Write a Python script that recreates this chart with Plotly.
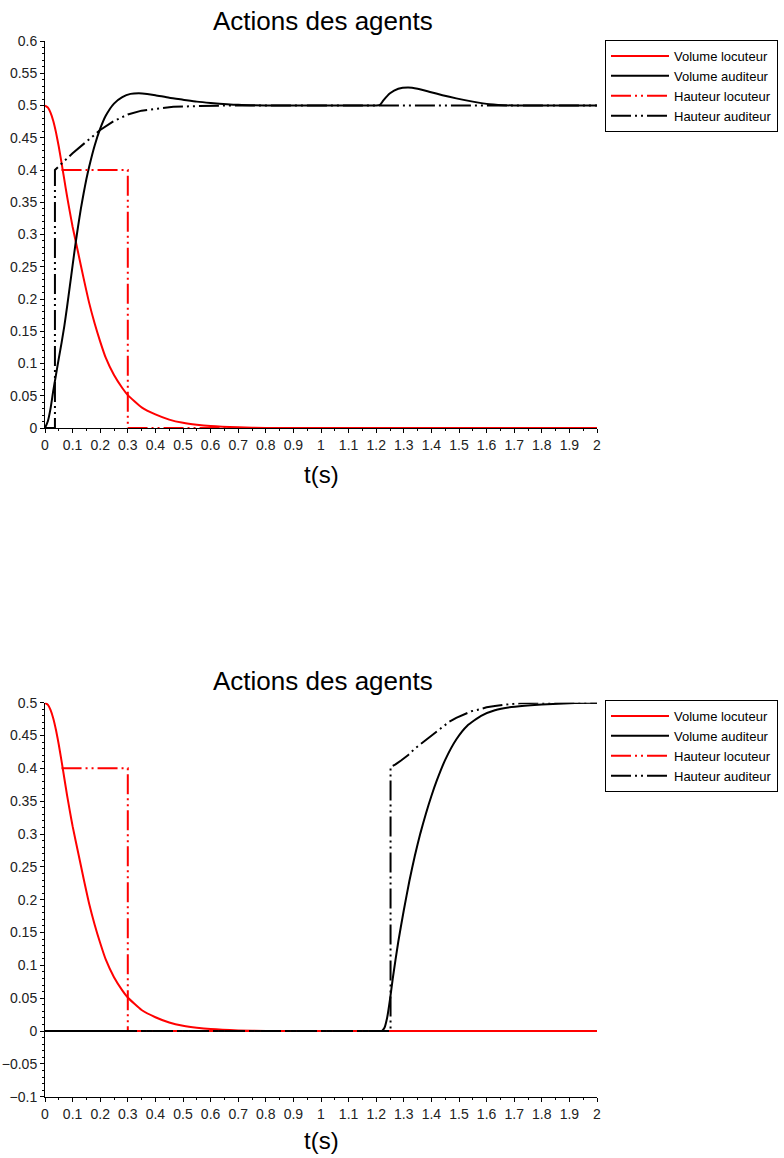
import plotly.graph_objects as go

# ---- data ----
# volume locuteur (same in both panels)
t_vol_loc = [0, 0.01, 0.02, 0.03, 0.04, 0.05, 0.06, 0.07, 0.08, 0.09, 0.10, 0.12, 0.14,
             0.16, 0.18, 0.20, 0.22, 0.25, 0.28, 0.30, 0.35, 0.40, 0.45, 0.50, 0.55,
             0.60, 0.70, 0.80, 1.0, 1.5, 2.0]
v_vol_loc = [0.5, 0.497, 0.489, 0.476, 0.458, 0.436, 0.411, 0.385, 0.359, 0.335, 0.312,
             0.272, 0.232, 0.194, 0.162, 0.134, 0.109, 0.082, 0.062, 0.051, 0.032, 0.021,
             0.013, 0.008, 0.005, 0.003, 0.001, 0.0, 0.0, 0.0, 0.0]

# hauteur locuteur (same in both panels)
t_haut_loc = [0.06, 0.30, 0.30, 2.0]
v_haut_loc = [0.4, 0.4, 0.0, 0.0]

# panel 1 : volume auditeur
t_vol_aud_1 = [0, 0.01, 0.02, 0.03, 0.04, 0.05, 0.06, 0.07, 0.08, 0.09, 0.10, 0.11, 0.12,
               0.13, 0.14, 0.15, 0.16, 0.18, 0.20, 0.22, 0.25, 0.28, 0.31, 0.34, 0.37,
               0.40, 0.45, 0.50, 0.55, 0.60, 0.70, 0.80, 1.0, 1.10, 1.20, 1.214, 1.226,
               1.25, 1.28, 1.316, 1.35, 1.395, 1.44, 1.49, 1.55, 1.61, 1.70, 1.80, 2.0]
v_vol_aud_1 = [0.0, 0.010, 0.030, 0.058, 0.083, 0.108, 0.132, 0.158, 0.188, 0.220, 0.252,
               0.284, 0.313, 0.340, 0.364, 0.386, 0.405, 0.438, 0.464, 0.484, 0.503, 0.513,
               0.518, 0.519, 0.518, 0.516, 0.512, 0.509, 0.506, 0.504, 0.501, 0.500, 0.500,
               0.500, 0.500, 0.501, 0.508, 0.519, 0.526, 0.528, 0.526, 0.521, 0.516, 0.511,
               0.506, 0.502, 0.500, 0.500, 0.500]

# panel 1 : hauteur auditeur
t_haut_aud_1 = [0, 0.036, 0.036, 0.045, 0.06, 0.08, 0.10, 0.13, 0.16, 0.20, 0.25, 0.30,
                0.35, 0.40, 0.465, 0.55, 0.65, 2.0]
v_haut_aud_1 = [0.0, 0.0, 0.40, 0.404, 0.410, 0.418, 0.426, 0.437, 0.448, 0.462, 0.476,
                0.486, 0.492, 0.495, 0.498, 0.499, 0.500, 0.500]

# panel 2 : volume auditeur
t_vol_aud_2 = [0, 0.4, 0.8, 1.0, 1.1, 1.18, 1.21, 1.22, 1.23, 1.24, 1.25, 1.26, 1.28, 1.30,
               1.32, 1.34, 1.36, 1.38, 1.40, 1.42, 1.45, 1.49, 1.53, 1.58, 1.63, 1.69,
               1.76, 1.84, 1.92, 2.0]
v_vol_aud_2 = [0.0, 0.0, 0.0, 0.0, 0.0, 0.0, 0.0, 0.0, 0.005, 0.021, 0.048, 0.080, 0.136,
               0.184, 0.228, 0.267, 0.301, 0.331, 0.358, 0.382, 0.413, 0.444, 0.465, 0.480,
               0.4885, 0.4933, 0.4962, 0.4982, 0.4994, 0.5]

# panel 2 : hauteur auditeur
t_haut_aud_2 = [0, 1.252, 1.252, 1.27, 1.29, 1.315, 1.34, 1.37, 1.395, 1.42, 1.44, 1.465,
                1.49, 1.52, 1.545, 1.575, 1.60, 1.63, 1.66, 1.69, 1.72, 1.76, 1.80, 2.0]
v_haut_aud_2 = [0.0, 0.0, 0.402, 0.406, 0.412, 0.420, 0.430, 0.440, 0.448, 0.457, 0.464,
                0.471, 0.477, 0.483, 0.487, 0.490, 0.493, 0.495, 0.497, 0.498, 0.499,
                0.4995, 0.500, 0.500]

x_tickvals = [i / 10 for i in range(21)]
x_ticktext = ['0', '0.1', '0.2', '0.3', '0.4', '0.5', '0.6', '0.7', '0.8', '0.9', '1',
              '1.1', '1.2', '1.3', '1.4', '1.5', '1.6', '1.7', '1.8', '1.9', '2']
y1_tickvals = [i * 0.05 for i in range(13)]
y1_ticktext = ['0', '0.05', '0.1', '0.15', '0.2', '0.25', '0.3', '0.35', '0.4', '0.45',
               '0.5', '0.55', '0.6']
y2_tickvals = [-0.1 + i * 0.05 for i in range(13)]
y2_ticktext = ['\u22120.1', '\u22120.05', '0', '0.05', '0.1', '0.15', '0.2', '0.25', '0.3',
               '0.35', '0.4', '0.45', '0.5']

names = ['Volume locuteur', 'Volume auditeur', 'Hauteur locuteur', 'Hauteur auditeur']
DASH = '20px,4px,2px,4px,2px,4px'
FONT = 'Liberation Sans, Arial, sans-serif'

W, H = 784, 1158

fig = go.Figure()

panels = [
    ('x', 'y', 'legend', t_vol_aud_1, v_vol_aud_1, t_haut_aud_1, v_haut_aud_1),
    ('x2', 'y2', 'legend2', t_vol_aud_2, v_vol_aud_2, t_haut_aud_2, v_haut_aud_2),
]
for xa, ya, leg, tva, vva, tha, vha in panels:
    fig.add_trace(go.Scatter(x=t_vol_loc, y=v_vol_loc, name=names[0], mode='lines',
                             line=dict(color='red', width=2, shape='spline', smoothing=0.5),
                             xaxis=xa, yaxis=ya, legend=leg))
    fig.add_trace(go.Scatter(x=tva, y=vva, name=names[1], mode='lines',
                             line=dict(color='black', width=2, shape='spline', smoothing=0.5),
                             xaxis=xa, yaxis=ya, legend=leg))
    fig.add_trace(go.Scatter(x=t_haut_loc, y=v_haut_loc, name=names[2], mode='lines',
                             line=dict(color='red', width=2, dash=DASH),
                             xaxis=xa, yaxis=ya, legend=leg))
    fig.add_trace(go.Scatter(x=tha, y=vha, name=names[3], mode='lines',
                             line=dict(color='black', width=2, dash=DASH),
                             xaxis=xa, yaxis=ya, legend=leg))

def px_x(x):
    return x / W

def px_y(y):
    return 1 - y / H

xdom = [px_x(45), px_x(597)]

def xaxis(anchor):
    return dict(domain=xdom, anchor=anchor, range=[0, 2], tickmode='array',
                tickvals=x_tickvals, ticktext=x_ticktext, ticks='outside', ticklen=4,
                tickcolor='black', showline=True, linecolor='black', linewidth=1,
                showgrid=False, zeroline=False,
                minor=dict(tickmode='linear', tick0=0, dtick=0.05, ticks='outside',
                           ticklen=2, tickcolor='black'),
                tickfont=dict(family=FONT, size=14, color='#222'))

def yaxis(anchor, dom, rng, tv, tt):
    return dict(domain=dom, anchor=anchor, range=rng, tickmode='array', tickvals=tv,
                ticktext=tt, ticks='outside', ticklen=4, tickcolor='black',
                showline=True, linecolor='black', linewidth=1, showgrid=False,
                zeroline=False,
                minor=dict(tickmode='linear', tick0=0, dtick=0.01, ticks='outside',
                           ticklen=2, tickcolor='black'),
                tickfont=dict(family=FONT, size=14, color='#222'))

legend_style = dict(bgcolor='white', bordercolor='black', borderwidth=1,
                    font=dict(family=FONT, size=13, color='black'),
                    xanchor='left', yanchor='top', tracegroupgap=0, itemwidth=58)

title_font = dict(family=FONT, size=26, color='black')
xlab_font = dict(family=FONT, size=24, color='black')

fig.update_layout(
    width=W, height=H,
    margin=dict(l=0, r=0, t=0, b=0, pad=0, autoexpand=False),
    plot_bgcolor='white', paper_bgcolor='white',
    showlegend=True,
    xaxis=xaxis('y'),
    yaxis=yaxis('x', [px_y(428), px_y(41)], [0, 0.6], y1_tickvals, y1_ticktext),
    xaxis2=xaxis('y2'),
    yaxis2=yaxis('x2', [px_y(1096.7), px_y(702.7)], [-0.1, 0.5], y2_tickvals, y2_ticktext),
    legend=dict(x=px_x(605), y=px_y(40), **legend_style),
    legend2=dict(x=px_x(605), y=px_y(700), **legend_style),
    annotations=[
        dict(text='Actions des agents', x=px_x(323), y=px_y(21), xref='paper', yref='paper',
             xanchor='center', yanchor='middle', showarrow=False, font=title_font),
        dict(text='t(s)', x=px_x(321), y=px_y(474), xref='paper', yref='paper',
             xanchor='center', yanchor='middle', showarrow=False, font=xlab_font),
        dict(text='Actions des agents', x=px_x(323), y=px_y(681), xref='paper', yref='paper',
             xanchor='center', yanchor='middle', showarrow=False, font=title_font),
        dict(text='t(s)', x=px_x(321), y=px_y(1140), xref='paper', yref='paper',
             xanchor='center', yanchor='middle', showarrow=False, font=xlab_font),
    ],
)

fig.write_html("out.html", config={'displayModeBar': False},
               post_script="document.body.style.margin='0';")
